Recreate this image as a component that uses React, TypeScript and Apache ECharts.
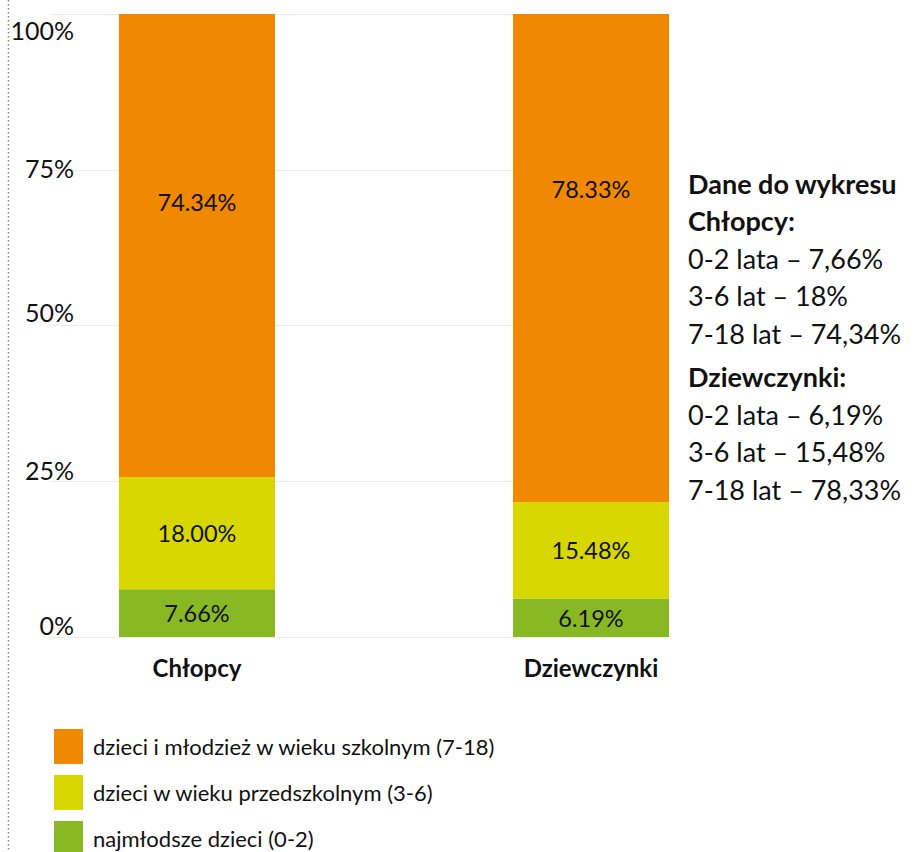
import React, { useEffect, useRef } from "react";
import * as echarts from "echarts";

const categories = ["Chłopcy", "Dziewczynki"];
const seriesNames = [
  "najmłodsze dzieci (0-2)",
  "dzieci w wieku przedszkolnym (3-6)",
  "dzieci i młodzież w wieku szkolnym (7-18)",
];
const youngest = [7.66, 6.19];
const preschool = [18.0, 15.48];
const school = [74.34, 78.33];
const ageGroups = ["0-2 lata", "3-6 lat", "7-18 lat"];
const yTicks = [0, 25, 50, 75, 100];
const dataTitle = "Dane do wykresu";

const colors = ["#88B925", "#D8D800", "#F08800"];
const schoolLabelOffsets = [
  [0, -44],
  [0, -69],
];
const tickLabelPadding: Record<number, number[]> = {
  0: [0, 0, 24, 0],
  25: [0, 0, 22, 0],
  50: [0, 0, 28, 0],
  75: [0, 0, 4, 0],
  100: [32, 0, 0, 0],
};

const FONT = "Lato";

export default function App() {
  const ref = useRef<HTMLDivElement>(null);
  useEffect(() => {
    document.body.style.margin = "0";
    if (!ref.current) return;
    const chart = echarts.init(ref.current, undefined, { renderer: "svg" });

    const valueSets = [youngest, preschool, school];
    const fmt = (v: number) => String(v).replace(".", ",") + "%";

    // right-side data text
    const textLines: { text: string; bold: boolean; gapBefore: number }[] = [];
    textLines.push({ text: dataTitle, bold: true, gapBefore: 0 });
    categories.forEach((c, ci) => {
      textLines.push({ text: c + ":", bold: true, gapBefore: ci > 0 ? 6 : 0 });
      ageGroups.forEach((g, gi) => {
        textLines.push({ text: `${g} – ${fmt(valueSets[gi][ci])}`, bold: false, gapBefore: 0 });
      });
    });
    let y = 183;
    const textGraphics = textLines.map((l, i) => {
      if (i > 0) y += 37.5 + l.gapBefore;
      return {
        type: "text",
        x: 688,
        y: y,
        style: {
          text: l.text,
          font: `${l.bold ? "bold " : ""}27px ${FONT}`,
          fill: "#111",
          textVerticalAlign: "middle",
          textAlign: "left",
        },
      };
    });

    const rich: Record<string, any> = {};
    yTicks.forEach((t) => {
      rich["s" + t] = {
        fontSize: 25,
        fontFamily: FONT,
        color: "#111",
        padding: tickLabelPadding[t],
      };
    });

    const series = valueSets.map((vals, si) => ({
      name: seriesNames[si],
      type: "bar",
      stack: "total",
      xAxisIndex: 0,
      yAxisIndex: 0,
      barWidth: 156,
      itemStyle: { color: colors[si] },
      label: {
        show: true,
        position: "inside",
        color: "#111",
        fontSize: 23.5,
        fontFamily: FONT,
        formatter: (p: any) => p.value.toFixed(2) + "%",
      },
      data: vals.map((v, i) =>
        si === 2 ? { value: v, label: { offset: schoolLabelOffsets[i] } } : v
      ),
    }));

    chart.setOption({
      animation: false,
      textStyle: { fontFamily: FONT },
      grid: [
        { left: 0, right: 132, top: 14, bottom: 215 },
        { left: 50, right: 255, top: 14, bottom: 215 },
      ],
      xAxis: [
        {
          type: "category",
          gridIndex: 0,
          data: categories,
          axisLine: { show: false },
          axisTick: { show: false },
          axisLabel: {
            fontSize: 24,
            fontWeight: "bold",
            color: "#111",
            fontFamily: FONT,
            margin: 18,
          },
        },
        { type: "value", gridIndex: 1, show: false, min: 0, max: 1 },
      ],
      yAxis: [
        {
          type: "value",
          gridIndex: 0,
          min: 0,
          max: 100,
          interval: 25,
          show: false,
        },
        {
          type: "value",
          gridIndex: 1,
          min: 0,
          max: 100,
          interval: 25,
          axisLine: { show: false },
          axisTick: { show: false },
          splitLine: { lineStyle: { color: "#ececec", width: 1 } },
          axisLabel: {
            margin: -24,
            align: "right",
            formatter: (v: number) => `{s${v}|${v}%}`,
            rich,
          },
        },
      ],
      legend: {
        orient: "vertical",
        left: 49,
        top: 724,
        height: 160,
        itemWidth: 29,
        itemHeight: 35,
        itemGap: 11,
        icon: "rect",
        data: [seriesNames[2], seriesNames[1], seriesNames[0]],
        selectedMode: false,
        textStyle: {
          fontSize: 22,
          color: "#111",
          fontFamily: FONT,
          padding: [0, 0, 0, 5],
        },
      },
      graphic: [
        {
          type: "line",
          shape: { x1: 8.5, y1: 0, x2: 8.5, y2: 852 },
          style: { stroke: "#888", lineWidth: 1.5, lineDash: [1.5, 2.5] },
          silent: true,
        },
        ...textGraphics,
      ],
      series,
    });
    return () => chart.dispose();
  }, []);
  return <div ref={ref} style={{ width: 920, height: 852 }} />;
}
